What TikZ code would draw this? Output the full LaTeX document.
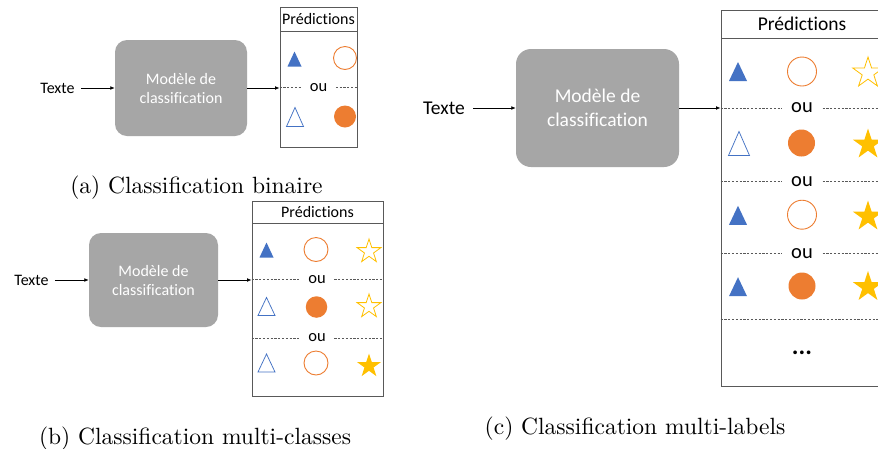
\documentclass[tikz,border=0pt]{standalone}
\usepackage{fontspec}
\newfontfamily\carl{Carlito}[Ligatures={NoCommon}]
\newfontfamily\capf{lmroman10-regular}[Extension=.otf]
\newcommand\capfont{\capf\fontsize{23.5}{28}\selectfont}
\usetikzlibrary{shapes.geometric,arrows.meta}
\definecolor{tblue}{HTML}{4472C4}
\definecolor{torange}{HTML}{ED7D31}
\definecolor{tgold}{HTML}{FFC000}
\definecolor{tgray}{HTML}{A6A6A6}
\definecolor{tline}{HTML}{595959}
\tikzset{
  sfA/.style={font=\carl\fontsize{16}{19}\selectfont},
  sfC/.style={font=\carl\fontsize{19.5}{24}\selectfont},
  ouA/.style={font=\carl\fontsize{16.5}{18}\selectfont, inner xsep=8.5pt, inner ysep=0pt},
  ouC/.style={font=\carl\fontsize{20.5}{22}\selectfont, inner xsep=9.5pt, inner ysep=0pt},
  model/.style={rectangle, rounded corners=12pt, fill=tgray, text=white, align=center, inner sep=0pt},
  pbox/.style={rectangle, draw=tline, line width=0.9pt, inner sep=0pt},
  txt/.style={inner xsep=6pt, inner ysep=0pt},
  conn/.style={line width=0.8pt, -{Latex[length=4.5pt,width=3.8pt]}},
  sepline/.style={draw=tline, line width=0.75pt, dash pattern=on 2.2pt off 1.6pt},
  circo/.style={circle, draw=torange, line width=0.9pt, inner sep=0pt},
  circf/.style={circle, fill=torange, inner sep=0pt},
  staro/.style={star, star points=5, star point ratio=2.618, draw=tgold, line width=0.8pt, inner sep=0pt},
  starf/.style={star, star points=5, star point ratio=2.618, fill=tgold, inner sep=0pt},
  trif/.style={fill=tblue},
  trio/.style={draw=tblue, line width=0.75pt},
  captxt/.style={font=\capfont, inner sep=0pt},
  pics/tri/.style args={#1/#2}{code={\path[pic actions] (-#1/2,#2/2) -- (0,-#2/2) -- (#1/2,#2/2) -- cycle;}},
}
\begin{document}
\begin{tikzpicture}[x=1pt,y=-1pt]
\useasboundingbox[fill=white] (0,0) rectangle (878,448);

% ---------------- (a) binaire ----------------
\node[sfA, txt] (texteA) at (57.5,88) {Texte};
\node[model, sfA, minimum width=132pt, minimum height=96pt] (modelA) at (181,88) {Modèle de\\classification};
\node[pbox, sfA, minimum width=77pt, minimum height=24pt] (hdrA) at (318.5,19) {Prédictions};
\node[pbox, minimum width=77pt, minimum height=116pt] (bodyA) at (318.5,89) {};
\draw[conn] (texteA.east) -- (modelA.west);
\draw[conn] (modelA.east) -- (modelA.east -| bodyA.west);
\node[ouA] (ouA1) at (318.5,87.5) {ou};
\draw[sepline] (bodyA.west |- ouA1) -- (ouA1.west);
\draw[sepline] (ouA1.east) -- (bodyA.east |- ouA1);
\pic[trif] at (294.5,59) {tri=14/15};
\node[circo, minimum size=23pt] (cA1) at (345,58) {};
\pic[trio] at (295,117) {tri=17/19};
\node[circf, minimum size=22pt] (cA2) at (345,116.5) {};
\node[captxt] (capA) at (196.5,188) {(a) Classification binaire};

% ---------------- (b) multi-classes ----------------
\node[sfA, txt] (texteB) at (31.5,280) {Texte};
\node[model, sfA, minimum width=129pt, minimum height=94pt] (modelB) at (153.5,280) {Modèle de\\classification};
\node[pbox, sfA, minimum width=131pt, minimum height=22pt] (hdrB) at (317.5,212) {Prédictions};
\node[pbox, minimum width=131pt, minimum height=173pt] (bodyB) at (317.5,309.5) {};
\draw[conn] (texteB.east) -- (modelB.west);
\draw[conn] (modelB.east) -- (modelB.east -| bodyB.west);
\node[ouA] (ouB1) at (317,279.5) {ou};
\draw[sepline] (bodyB.west |- ouB1) -- (ouB1.west);
\draw[sepline] (ouB1.east) -- (bodyB.east |- ouB1);
\node[ouA] (ouB2) at (317,338) {ou};
\draw[sepline] (bodyB.west |- ouB2) -- (ouB2.west);
\draw[sepline] (ouB2.east) -- (bodyB.east |- ouB2);
\pic[trif] at (266.5,250) {tri=14/15};
\node[circo, minimum size=24pt] (cB1) at (316,249.5) {};
\node[staro, minimum size=25pt] (sB1) at (369,251.5) {};
\pic[trio] at (266.5,306.5) {tri=17/18};
\node[circf, minimum size=21.5pt] (cB2) at (316.5,307) {};
\node[staro, minimum size=25pt] (sB2) at (369,306.5) {};
\pic[trio] at (266.5,363) {tri=17/18};
\node[circo, minimum size=24pt] (cB3) at (316,363) {};
\node[starf, minimum size=25pt] (sB3) at (369,366) {};
\node[captxt] (capB) at (195,439) {(b) Classification multi-classes};

% ---------------- (c) multi-labels ----------------
\node[sfC, txt, inner xsep=8pt] (texteC) at (444,108) {Texte};
\node[model, sfC, minimum width=163pt, minimum height=118pt, rounded corners=15pt] (modelC) at (597.5,108) {Modèle de\\classification};
\node[pbox, sfC, minimum width=162pt, minimum height=28pt] (hdrC) at (802,24) {Prédictions};
\node[pbox, minimum width=162pt, minimum height=348pt] (bodyC) at (802,212) {};
\draw[conn] (texteC.east) -- (modelC.west);
\draw[conn] (modelC.east) -- (modelC.east -| bodyC.west);
\node[ouC] (ouC1) at (802,108) {ou};
\draw[sepline] (bodyC.west |- ouC1) -- (ouC1.west);
\draw[sepline] (ouC1.east) -- (bodyC.east |- ouC1);
\node[ouC] (ouC2) at (802,181.5) {ou};
\draw[sepline] (bodyC.west |- ouC2) -- (ouC2.west);
\draw[sepline] (ouC2.east) -- (bodyC.east |- ouC2);
\node[ouC] (ouC3) at (802,253.5) {ou};
\draw[sepline] (bodyC.west |- ouC3) -- (ouC3.west);
\draw[sepline] (ouC3.east) -- (bodyC.east |- ouC3);
\coordinate (sepC) at (802,319);
\draw[sepline] (bodyC.west |- sepC) -- (bodyC.east |- sepC);
\node[font=\carl\bfseries\fontsize{25}{26}\selectfont, inner sep=0pt] (dotsC) at (802,353) {...};
\pic[trif] at (738,71.5) {tri=18/19};
\node[circo, minimum size=29pt] (cC1) at (802,71.5) {};
\node[staro, minimum size=32pt] (sC1) at (868,73) {};
\pic[trio] at (739,143.5) {tri=21/24};
\node[circf, minimum size=27pt] (cC2) at (801.5,143) {};
\node[starf, minimum size=32pt] (sC2) at (868,144.5) {};
\pic[trif] at (738,215.3) {tri=18/19};
\node[circo, minimum size=29pt] (cC3) at (802,214.7) {};
\node[starf, minimum size=32pt] (sC3) at (868,216.5) {};
\pic[trif] at (738,286.7) {tri=18/19};
\node[circf, minimum size=27pt] (cC4) at (802,286) {};
\node[starf, minimum size=32pt] (sC4) at (868,287) {};
\node[captxt] (capC) at (635,429) {(c) Classification multi-labels};
\end{tikzpicture}
\end{document}
